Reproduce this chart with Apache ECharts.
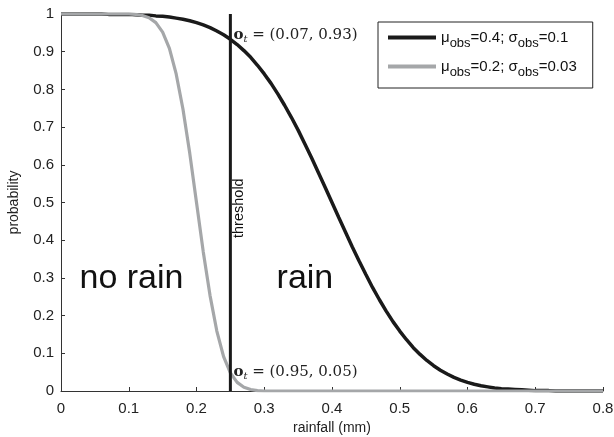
<!DOCTYPE html>
<html>
<head>
<meta charset="utf-8">
<script src="https://cdn.jsdelivr.net/npm/echarts@6/dist/echarts.min.js"></script>
<style>html,body{margin:0;padding:0;background:#fff}#c{width:614px;height:437px}</style>
</head>
<body>
<div id="c"></div>
<script>
// rainfall (mm) sample points
var rainfall = [0,0.01,0.02,0.03,0.04,0.05,0.06,0.07,0.08,0.09,0.10,0.11,0.12,0.13,0.14,0.15,0.16,0.17,0.18,0.19,0.20,
  0.21,0.22,0.23,0.24,0.25,0.26,0.27,0.28,0.29,0.30,0.31,0.32,0.33,0.34,0.35,0.36,0.37,0.38,0.39,0.40,
  0.41,0.42,0.43,0.44,0.45,0.46,0.47,0.48,0.49,0.50,0.51,0.52,0.53,0.54,0.55,0.56,0.57,0.58,0.59,0.60,
  0.61,0.62,0.63,0.64,0.65,0.66,0.67,0.68,0.69,0.70,0.71,0.72,0.73,0.74,0.75,0.76,0.77,0.78,0.79,0.80];
// probability, mu_obs=0.4, sigma_obs=0.1 (black)
var probWide = [1.000,1.000,1.000,1.000,1.000,1.000,1.000,0.999,0.999,0.999,0.999,0.998,0.997,0.997,0.995,0.994,0.992,0.989,0.986,0.982,0.977,
  0.971,0.964,0.955,0.945,0.933,0.919,0.903,0.885,0.864,0.841,0.816,0.788,0.758,0.726,0.692,0.655,0.618,0.579,0.540,0.500,
  0.460,0.421,0.382,0.345,0.309,0.274,0.242,0.212,0.184,0.159,0.136,0.115,0.097,0.081,0.067,0.055,0.045,0.036,0.029,0.023,
  0.018,0.014,0.011,0.008,0.006,0.005,0.004,0.003,0.002,0.001,0.001,0.001,0.000,0.000,0.000,0.000,0.000,0.000,0.000,0.000];
// probability, mu_obs=0.2, sigma_obs=0.03 (grey)
var probNarrow = [1.000,1.000,1.000,1.000,1.000,1.000,1.000,1.000,1.000,1.000,1.000,0.999,0.996,0.990,0.977,0.952,0.909,0.841,0.748,0.631,0.500,
  0.369,0.253,0.159,0.091,0.048,0.023,0.010,0.004,0.001,0.000,0.000,0.000,0.000,0.000,0.000,0.000,0.000,0.000,0.000,0.000,
  0.000,0.000,0.000,0.000,0.000,0.000,0.000,0.000,0.000,0.000,0.000,0.000,0.000,0.000,0.000,0.000,0.000,0.000,0.000,0.000,
  0.000,0.000,0.000,0.000,0.000,0.000,0.000,0.000,0.000,0.000,0.000,0.000,0.000,0.000,0.000,0.000,0.000,0.000,0.000,0.000];
var thresholdX = 0.25;
var thresholdLine = [[thresholdX, 0], [thresholdX, 1]];
var pointHigh = [thresholdX, 0.93];
var pointLow = [thresholdX, 0.05];
var xTicks = [0, 0.1, 0.2, 0.3, 0.4, 0.5, 0.6, 0.7, 0.8];
var yTicks = [0, 0.1, 0.2, 0.3, 0.4, 0.5, 0.6, 0.7, 0.8, 0.9, 1];
var seriesNames = ['wide', 'narrow'];

function pairs(xs, ys) { return xs.map(function (x, i) { return [x, ys[i]]; }); }

var sans = 'Liberation Sans, Arial, Helvetica, sans-serif';
var serif = 'DejaVu Serif, Liberation Serif, serif';
var chart = echarts.init(document.getElementById('c'), null, {renderer: 'canvas'});

var annotRich = {
  o: {fontFamily: serif, fontWeight: 'bold', fontSize: 15, color: '#222'},
  t: {fontFamily: serif, fontStyle: 'italic', fontSize: 10, color: '#222', padding: [8, 0, 0, 0]},
  v: {fontFamily: serif, fontSize: 15, color: '#222'}
};
var legendRich = {
  a: {fontFamily: sans, fontSize: 15, color: '#111'},
  s: {fontFamily: sans, fontSize: 13, color: '#111', padding: [12, 0, 0, 0]}
};

chart.setOption({
  animation: false,
  backgroundColor: '#fff',
  grid: {left: 61, right: 11, top: 14, bottom: 46, containLabel: false, outerBoundsMode: 'none'},
  legend: {
    data: seriesNames,
    left: 378, top: 22, orient: 'vertical',
    padding: [8, 16, 9, 10], itemGap: 9,
    itemWidth: 48, itemHeight: 4,
    borderColor: '#222', borderWidth: 1, borderRadius: 0,
    icon: 'rect',
    textStyle: {rich: legendRich, padding: [0, 0, 0, 0]},
    formatter: function (n) {
      return n === 'wide'
        ? '{a|μ}{s|obs}{a|=0.4; σ}{s|obs}{a|=0.1}'
        : '{a|μ}{s|obs}{a|=0.2; σ}{s|obs}{a|=0.03}';
    }
  },
  xAxis: {
    type: 'value', min: 0, max: 0.8, interval: 0.1,
    name: 'rainfall (mm)', nameLocation: 'middle', nameGap: 30,
    nameTextStyle: {fontFamily: sans, fontSize: 14, color: '#222'},
    axisLine: {show: true, lineStyle: {color: '#333', width: 1}},
    axisTick: {show: true, inside: true, length: 4, lineStyle: {color: '#333'}},
    axisLabel: {fontFamily: sans, fontSize: 15, color: '#222', margin: 10,
      formatter: function (v) { return xTicks.indexOf(+v.toFixed(1)) >= 0 ? String(+v.toFixed(1)) : ''; }},
    splitLine: {show: false}
  },
  yAxis: {
    type: 'value', min: 0, max: 1, interval: 0.1,
    name: 'probability', nameLocation: 'middle', nameGap: 40,
    nameTextStyle: {fontFamily: sans, fontSize: 14, color: '#222'},
    axisLine: {show: true, lineStyle: {color: '#333', width: 1}},
    axisTick: {show: true, inside: true, length: 4, lineStyle: {color: '#333'}},
    axisLabel: {fontFamily: sans, fontSize: 15, color: '#222', margin: 7,
      formatter: function (v) { var r = +v.toFixed(1); return yTicks.indexOf(r) >= 0 ? String(r) : ''; }},
    splitLine: {show: false}
  },
  series: [
    {
      name: 'wide', type: 'line', data: pairs(rainfall, probWide),
      showSymbol: false, smooth: false, z: 3,
      itemStyle: {color: '#1a1a1a'},
      lineStyle: {color: '#1a1a1a', width: 3.5}
    },
    {
      name: 'narrow', type: 'line', data: pairs(rainfall, probNarrow),
      showSymbol: false, smooth: false, z: 4,
      itemStyle: {color: '#a5a7a9'},
      lineStyle: {color: '#a5a7a9', width: 3.2}
    },
    {
      name: 'threshold', type: 'line', data: thresholdLine,
      showSymbol: false, z: 5,
      lineStyle: {color: '#1a1a1a', width: 3},
      markPoint: {
        symbol: 'circle', symbolSize: 0,
        data: [
          {coord: [thresholdX, 0.485], label: {show: true, formatter: 'threshold', rotate: 90,
            fontFamily: sans, fontSize: 14.5, color: '#111', position: 'inside', offset: [0, 9]}},
          {coord: pointHigh, label: {show: true, position: 'right', distance: 3, offset: [0, -5],
            formatter: '{o|o}{t|t}{v| = (0.07, 0.93)}', rich: annotRich}},
          {coord: pointLow, label: {show: true, position: 'right', distance: 3, offset: [0, 0],
            formatter: '{o|o}{t|t}{v| = (0.95, 0.05)}', rich: annotRich}},
          {coord: [0.104, 0.297], label: {show: true, formatter: 'no rain', position: 'inside',
            fontFamily: sans, fontSize: 34, color: '#111'}},
          {coord: [0.36, 0.297], label: {show: true, formatter: 'rain', position: 'inside',
            fontFamily: sans, fontSize: 34, color: '#111'}}
        ]
      }
    }
  ]
});
</script>
</body>
</html>
